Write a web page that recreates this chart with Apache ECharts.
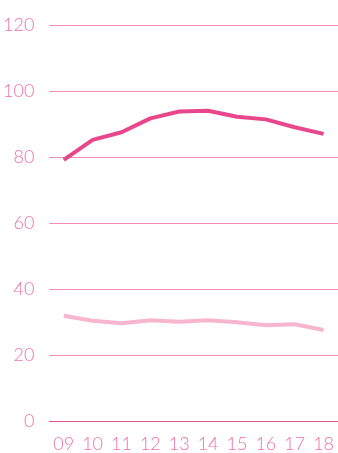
<!DOCTYPE html>
<html><head><meta charset="utf-8">
<script src="https://cdn.jsdelivr.net/npm/echarts@6/dist/echarts.min.js"></script>
<style>html,body{margin:0;padding:0;background:#fff}#c{width:338px;height:453px}</style>
</head><body><div id="c"></div>
<script>
var categories = ['09','10','11','12','13','14','15','16','17','18'];
var seriesDark = [79.1, 85.2, 87.5, 91.7, 93.8, 94.0, 92.2, 91.4, 89.0, 87.0];
var seriesLight = [31.9, 30.4, 29.6, 30.5, 30.1, 30.5, 29.9, 29.0, 29.3, 27.6];
var yTicks = [0, 20, 40, 60, 80, 100, 120];

var chart = echarts.init(document.getElementById('c'), null, {renderer: 'canvas'});
var labelFont = {color: '#ef70a5', fontFamily: 'Lato', fontWeight: 300, fontSize: 18};
chart.setOption({
  animation: false,
  grid: {left: 48, right: 0, top: 25, bottom: 32, containLabel: false},
  xAxis: {
    type: 'category', data: categories, boundaryGap: true,
    axisLine: {show: true, lineStyle: {color: '#e2558f', width: 1}},
    axisTick: {show: false},
    axisLabel: Object.assign({margin: 14}, labelFont),
    splitLine: {show: false}
  },
  yAxis: {
    type: 'value', min: yTicks[0], max: yTicks[yTicks.length - 1], interval: 20,
    axisLine: {show: false}, axisTick: {show: false},
    axisLabel: Object.assign({margin: 15}, labelFont),
    splitLine: {lineStyle: {color: '#f08cb5', width: 1}}
  },
  series: [
    {type: 'line', data: seriesLight, symbol: 'none', lineStyle: {color: '#f6b6cd', width: 4}},
    {type: 'line', data: seriesDark, symbol: 'none', lineStyle: {color: '#e9478c', width: 4}}
  ]
});
</script></body></html>
